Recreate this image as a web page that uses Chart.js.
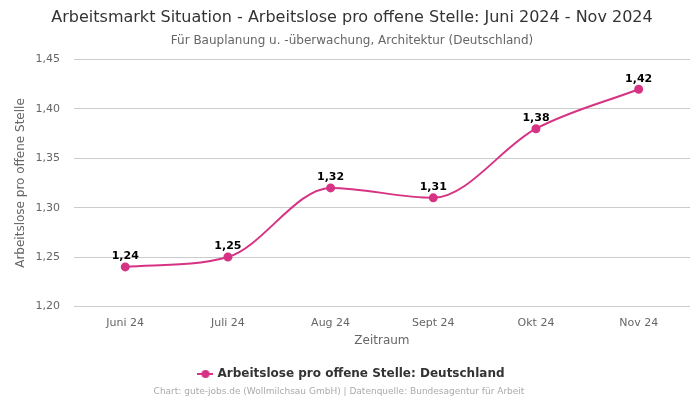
<!DOCTYPE html>
<html>
<head>
<meta charset="utf-8">
<script src="https://cdn.jsdelivr.net/npm/chart.js@4"></script>
<style>
  html,body{margin:0;padding:0;background:#fff;}
  #wrap{width:700px;height:400px;}
</style>
</head>
<body>
<div id="wrap"><canvas id="chart"></canvas></div>
<script>
// ====== Data ======
const labels = ['Juni 24','Juli 24','Aug 24','Sept 24','Okt 24','Nov 24'];
const values = [1.24, 1.25, 1.32, 1.31, 1.38, 1.42];
const yTicks = [1.20, 1.25, 1.30, 1.35, 1.40, 1.45];

const PINK = '#d63384';
const FONT = "'DejaVu Sans', sans-serif";
const fmt = v => v.toFixed(2).replace('.', ',');

// legend marker: line with a dot
function legendIcon(){
  const c = document.createElement('canvas'); c.width = 16; c.height = 10;
  const g = c.getContext('2d');
  g.strokeStyle = PINK; g.lineWidth = 2;
  g.beginPath(); g.moveTo(0,5); g.lineTo(16,5); g.stroke();
  g.fillStyle = PINK; g.beginPath(); g.arc(8,5,4,0,Math.PI*2); g.fill();
  return c;
}

// ====== Plugins ======
const valueLabels = {
  id:'valueLabels',
  afterDatasetsDraw(chart){
    const ctx = chart.ctx;
    const meta = chart.getDatasetMeta(0);
    ctx.save();
    ctx.font = "bold 11px " + FONT;
    ctx.fillStyle = '#000';
    ctx.textAlign = 'center';
    ctx.textBaseline = 'bottom';
    meta.data.forEach((p,i) => ctx.fillText(fmt(values[i]), p.x, p.y - 5));
    ctx.restore();
  }
};

const footer = {
  id:'footer',
  afterDraw(chart){
    const ctx = chart.ctx;
    ctx.save();
    ctx.font = "9px " + FONT;
    ctx.fillStyle = '#aaa';
    ctx.textAlign = 'center';
    ctx.textBaseline = 'middle';
    ctx.fillText('Chart: gute-jobs.de (Wollmilchsau GmbH) | Datenquelle: Bundesagentur für Arbeit', 339, 392);
    ctx.restore();
  }
};

// ====== Chart ======
new Chart(document.getElementById('chart'), {
  type:'line',
  data:{
    labels,
    datasets:[{
      label:'Arbeitslose pro offene Stelle: Deutschland',
      data: values,
      borderColor: PINK,
      backgroundColor: PINK,
      borderWidth: 2,
      pointRadius: 3.5,
      pointHoverRadius: 5,
      cubicInterpolationMode: 'monotone'
    }]
  },
  options:{
    responsive:true,
    maintainAspectRatio:false,
    animation:false,
    layout:{ padding:{ left:14, right:10, top:0, bottom:10 } },
    plugins:{
      title:{
        display:true,
        text:'Arbeitsmarkt Situation - Arbeitslose pro offene Stelle: Juni 2024 - Nov 2024',
        color:'#333',
        font:{ family:FONT, size:16, weight:'normal' },
        padding:{ top:8, bottom:6 }
      },
      subtitle:{
        display:true,
        text:'Für Bauplanung u. -überwachung, Architektur (Deutschland)',
        color:'#666',
        font:{ family:FONT, size:12 },
        padding:{ bottom:12 }
      },
      legend:{
        position:'bottom',
        labels:{
          color:'#333',
          font:{ family:FONT, size:12, weight:'bold' },
          usePointStyle:true,
          generateLabels(chart){
            const ds = chart.data.datasets[0];
            return [{ text: ds.label, pointStyle: legendIcon(), fillStyle: PINK, strokeStyle: PINK, fontColor:'#333', lineWidth:0, datasetIndex:0 }];
          }
        }
      },
      tooltip:{ enabled:false }
    },
    scales:{
      x:{
        offset:true,
        grid:{ display:false },
        border:{ display:false },
        ticks:{ color:'#666', font:{ family:FONT, size:11 }, padding:2 },
        title:{ display:true, text:'Zeitraum', color:'#666', font:{ family:FONT, size:12 }, padding:{ top:2, bottom:10 } }
      },
      y:{
        min:1.20, max:1.45,
        afterBuildTicks(axis){ axis.ticks = yTicks.map(v => ({ value:v })); },
        grid:{ color:'#ccc', drawTicks:false },
        border:{ display:false },
        ticks:{ color:'#666', font:{ family:FONT, size:11 }, padding:14, callback: v => fmt(v) },
        title:{ display:true, text:'Arbeitslose pro offene Stelle', color:'#666', font:{ family:FONT, size:12 }, padding:{ top:0, bottom:-7 } }
      }
    }
  },
  plugins:[valueLabels, footer]
});
</script>
</body>
</html>
